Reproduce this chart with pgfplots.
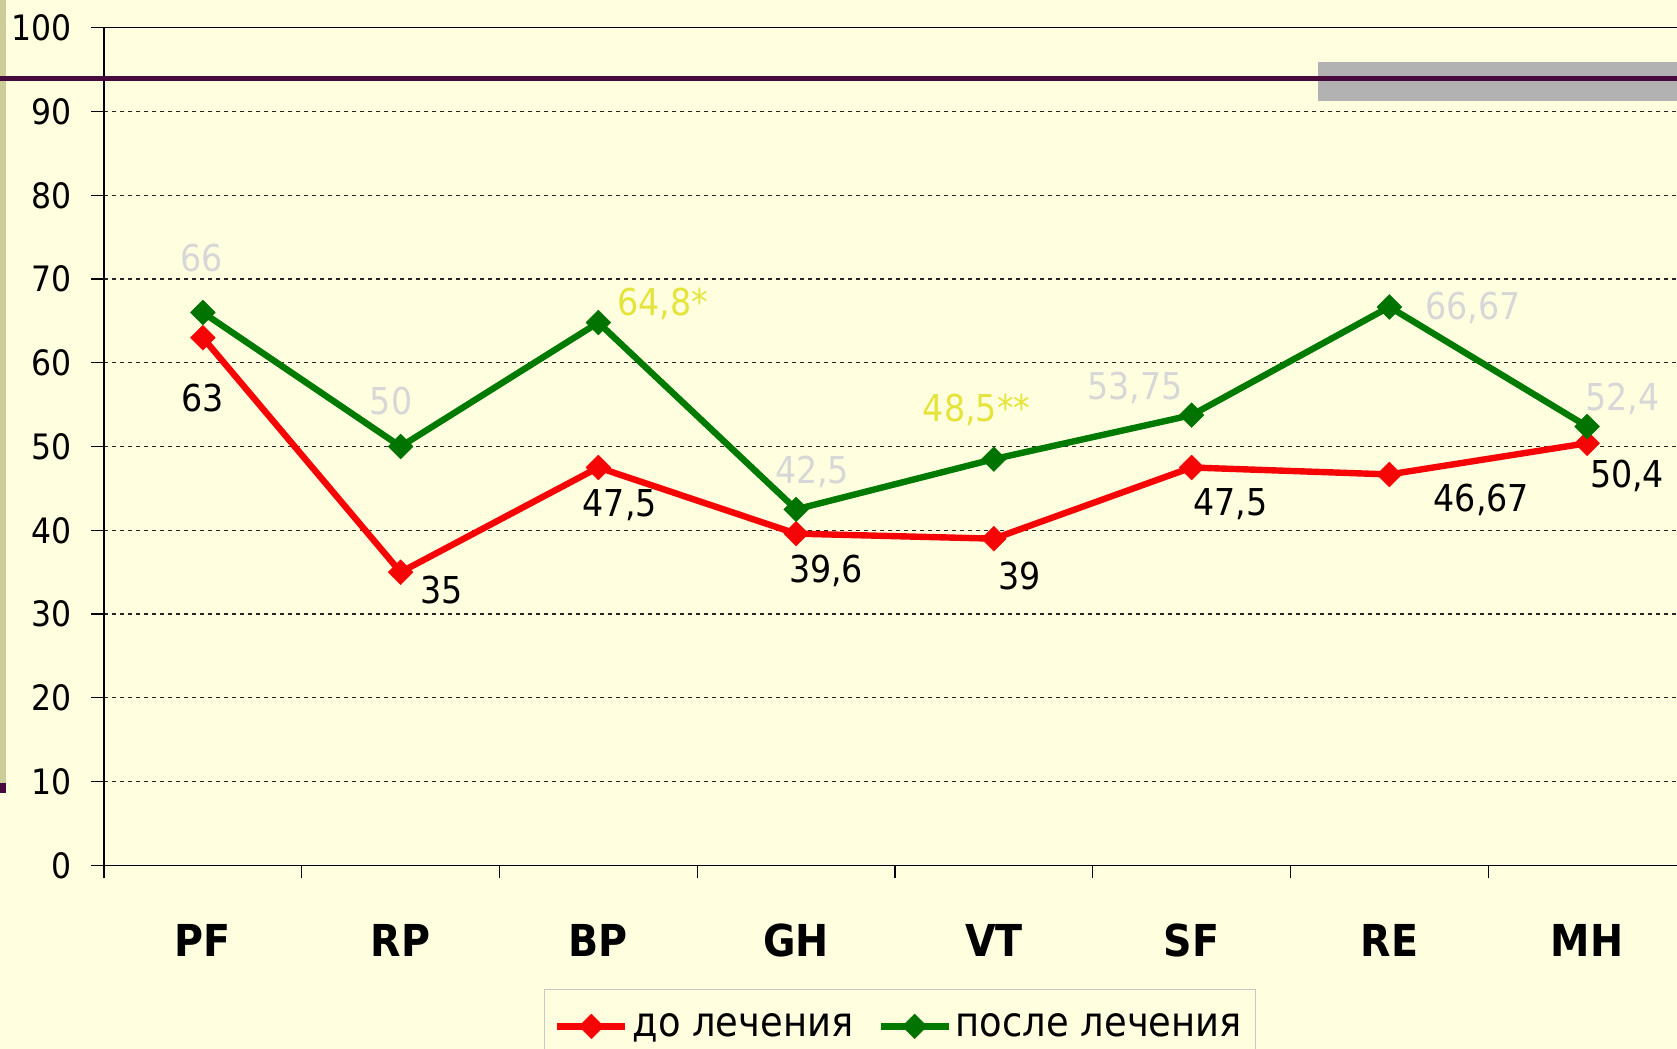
\documentclass[border=0pt]{standalone}
\usepackage{fontspec}
\setmainfont{DejaVu Sans Condensed}
\usepackage{pgfplots}
\pgfplotsset{compat=1.18}
\definecolor{bg}{RGB}{255,255,224}
\definecolor{tanbar}{RGB}{204,204,153}
\definecolor{plum}{RGB}{70,10,60}
\definecolor{graybox}{RGB}{178,178,178}
\definecolor{lred}{RGB}{245,5,5}
\definecolor{lgreen}{RGB}{0,122,0}
\definecolor{mgreen}{RGB}{0,115,0}
\definecolor{lblgray}{RGB}{215,215,215}
\definecolor{lblyellow}{RGB}{228,228,60}
\begin{document}
\begin{tikzpicture}[x=1pt,y=1pt]
\fill[bg] (0,0) rectangle (838.5,524.5);
\fill[tanbar] (0,133.1) rectangle (3,524.5);
\fill[plum] (0,127.9) rectangle (3,133.1);
\fill[graybox] (659,474.15) rectangle (838.5,493.5);
\begin{axis}[
  scale only axis, width=791pt, height=418.75pt,
  at={(52pt,91.85pt)}, anchor=south west,
  xmin=-0.5, xmax=7.5, ymin=0, ymax=100,
  axis lines=left, axis line style={-, line width=0.6pt},
  tick align=outside, major tick length=6.5pt,
  tick style={line width=0.6pt, black},
  clip=false,
  /pgf/number format/assume math mode=true,
  ytick={0,10,...,100},
  yticklabel style={font=\fontsize{17.5}{17.5}\selectfont, inner sep=0pt, anchor=east, xshift=-9.5pt},
  ymajorgrids=true,
  major grid style={black!85, line width=0.6pt, dash pattern=on 2pt off 2pt},
  xtick={-0.5,0.5,...,7.5},
  xticklabels={},
  extra x ticks={0,1,2,3,4,5,6,7},
  extra x tick labels={PF,RP,BP,GH,VT,SF,RE,MH},
  extra x tick style={major tick length=0pt, xmajorgrids=false,
    xticklabel style={font=\fontsize{22}{22}\selectfont\bfseries, anchor=base, inner sep=0pt, yshift=-45.5pt}},
  legend style={at={(0.278,-0.1477)}, anchor=north west, draw=black!22, fill=bg,
    font=\fontsize{20.5}{24}\selectfont, inner xsep=5pt, inner ysep=10pt,
    /tikz/every even column/.append style={column sep=10pt}},
  legend columns=2,
  legend image code/.code={\draw[mark repeat=2,mark phase=2,#1] plot coordinates {(0pt,0pt)(17pt,0pt)(34pt,0pt)};},
]
\addplot[color=lred, line width=3.2pt, line join=round, mark=square*, mark size=4.4pt,
  mark options={rotate=45, fill=lred, draw=lred, line width=0.2pt}]
  coordinates {(0,63) (1,35) (2,47.5) (3,39.6) (4,39) (5,47.5) (6,46.67) (7,50.4)};
\addlegendentry{до лечения}
\addplot[color=lgreen, line width=3.2pt, line join=round, mark=square*, mark size=4.4pt,
  mark options={rotate=45, fill=mgreen, draw=mgreen, line width=0.2pt}]
  coordinates {(0,66) (1,50) (2,64.8) (3,42.5) (4,48.5) (5,53.75) (6,66.67) (7,52.4)};
\addlegendentry{после лечения}
\draw[black, line width=0.6pt] (rel axis cs:0,1) -- (rel axis cs:1,1);
% labels for "до лечения"
\begin{scope}[every node/.style={font=\fontsize{18.5}{18.5}\selectfont, text=black, inner sep=0pt}]
\node[xshift=0pt, yshift=-30pt] at (axis cs:0,63) {63};
\node[xshift=20.3pt, yshift=-9.1pt] at (axis cs:1,35) {35};
\node[xshift=10.7pt, yshift=-18.7pt] at (axis cs:2,47.5) {47,5};
\node[xshift=15pt, yshift=-18.7pt] at (axis cs:3,39.6) {39,6};
\node[xshift=12.8pt, yshift=-18.7pt] at (axis cs:4,39) {39};
\node[xshift=19.3pt, yshift=-18.2pt] at (axis cs:5,47.5) {47,5};
\node[xshift=46pt, yshift=-12.8pt] at (axis cs:6,46.67) {46,67};
\node[xshift=20pt, yshift=-16.6pt] at (axis cs:7,50.4) {50,4};
\end{scope}
\begin{scope}[every node/.style={font=\fontsize{18.5}{18.5}\selectfont, text=lblgray, inner sep=0pt}]
\node[xshift=-0.5pt, yshift=27.3pt] at (axis cs:0,66) {66};
\node[xshift=-4.8pt, yshift=23pt] at (axis cs:1,50) {50};
\node[text=lblyellow, xshift=32.1pt, yshift=9.1pt] at (axis cs:2,64.8) {64,8*};
\node[xshift=8pt, yshift=18.7pt] at (axis cs:3,42.5) {42,5};
\node[text=lblyellow, xshift=-8.6pt, yshift=24.6pt] at (axis cs:4,48.5) {48,5**};
\node[xshift=-28.4pt, yshift=13.4pt] at (axis cs:5,53.75) {53,75};
\node[xshift=41.7pt, yshift=-0.5pt] at (axis cs:6,66.67) {66,67};
\node[xshift=17.7pt, yshift=13.9pt] at (axis cs:7,52.4) {52,4};
\end{scope}
\end{axis}
\draw[plum, line width=2.3pt] (0,485.15) -- (838.5,485.15);
\pgfresetboundingbox
\path[use as bounding box] (0,0) rectangle (838.5,524.5);
\end{tikzpicture}
\end{document}
